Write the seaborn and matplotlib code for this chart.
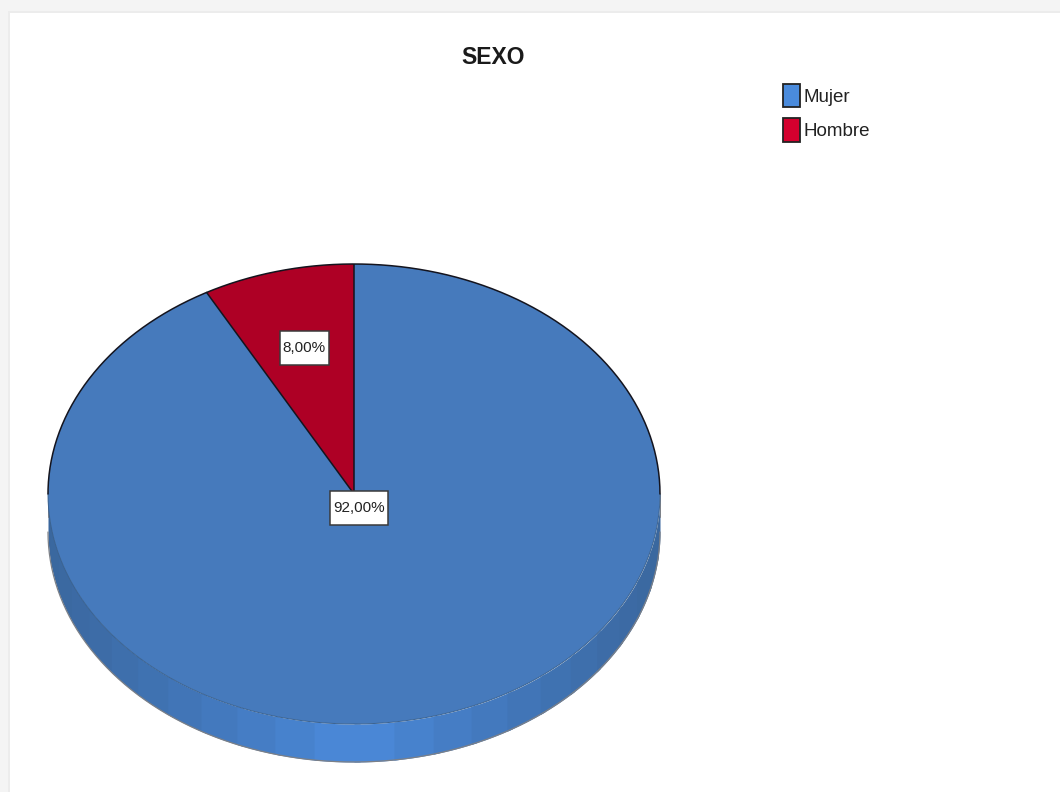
import numpy as np
import matplotlib
matplotlib.use("Agg")
import matplotlib.pyplot as plt
from matplotlib.patches import Patch, Rectangle
from matplotlib.path import Path
import seaborn as sns

# Survey breakdown by sex
categories = ["Mujer", "Hombre"]
percentages = [92.0, 8.0]
title_text = "SEXO"

sns.set_theme(style="white")
plt.rcParams["font.family"] = ["Liberation Sans", "DejaVu Sans"]

W, H = 1060, 792
face_colors = sns.color_palette(["#467ABC", "#AE0025"])
legend_colors = sns.color_palette(["#4A8BDC", "#D4002E"])
wall_dark = np.array(matplotlib.colors.to_rgb("#3A679E"))
wall_light = np.array(matplotlib.colors.to_rgb("#4B8ADB"))
outline = "#14141E"

fig = plt.figure(figsize=(W / 100, H / 100), dpi=100, facecolor="white")

# Window frame along the top and left edges
for (x0, y0, w, h, c) in [(0, 0, W, 11, "#F4F4F4"), (0, 11, W, 2, "#ECECEC"),
                          (0, 0, 8, H, "#F4F4F4"), (8, 13, 2, H, "#ECECEC")]:
    fig.add_artist(Rectangle((x0 / W, 1 - (y0 + h) / H), w / W, h / H,
                             transform=fig.transFigure, fc=c, ec="none"))

# Pie geometry in pixels: the axes hold the flattened top face plus the rim below it
left, right, top, face_bottom, rim_bottom = 48, 660, 264, 724, 762
depth = (rim_bottom - face_bottom) / ((face_bottom - top) / 2)
ax = fig.add_axes([left / W, 1 - rim_bottom / H, (right - left) / W, (rim_bottom - top) / H])

wedges, _ = ax.pie(percentages, colors=face_colors, startangle=90, counterclock=False,
                   radius=1, wedgeprops=dict(edgecolor="none", linewidth=0, zorder=3))
ax.set_aspect("auto")
ax.set_xlim(-1, 1)
ax.set_ylim(-1 - depth, 1)
ax.set_axis_off()

# Rim: shaded facets every 7.5 degrees around the front of the pie.
# Each facet runs slightly under the next one so no gap shows between them.
edges = np.radians(np.arange(180, 360.1, 7.5))
for a, b in zip(edges[:-1], edges[1:]):
    t = np.linspace(a, min(b + 0.02, 2 * np.pi), 12)
    shade = abs(np.cos((a + b) / 2))
    color = wall_light + (wall_dark - wall_light) * shade ** 0.9
    ax.fill_between(np.cos(t), np.sin(t), np.sin(t) - depth, color=color,
                    linewidth=0, antialiased=False, zorder=1, clip_on=False)

# Outlines: firm over the back arc and the slice sides, faint along the front
t = np.linspace(np.pi, 2 * np.pi, 300)
ax.plot(np.cos(t), np.sin(t) - depth, color="#7C8087", lw=0.9, zorder=2, clip_on=False)
ax.plot(np.cos(t), np.sin(t), color="#3A6290", lw=0.7, zorder=4, clip_on=False)
t = np.linspace(0, np.pi, 300)
ax.plot(np.cos(t), np.sin(t), color=outline, lw=1.1, zorder=4, clip_on=False)
for angle in (wedges[1].theta1, wedges[1].theta2):
    r = np.radians(angle)
    ax.plot([0, np.cos(r)], [0, np.sin(r)], color=outline, lw=1.1, zorder=4)
for x_side in (-1, 1):
    ax.plot([x_side, x_side], [0, -depth * 0.6], color="#7C8087", lw=0.7, zorder=2, clip_on=False)


def tall_box(x0, y0, width, height, mutation_size):
    """Rectangular label box with more room above and below the text than beside it."""
    px, py = 0.22 * mutation_size, 0.68 * mutation_size
    xa, xb, ya, yb = x0 - px, x0 + width + px, y0 - py, y0 + height + py
    return Path([(xa, ya), (xb, ya), (xb, yb), (xa, yb), (xa, ya)], closed=True)


# Percentage labels
label_positions = [(0.016, -0.061), (-0.162, 0.635)]
for value, (lx, ly) in zip(percentages, label_positions):
    ax.text(lx, ly, f"{value:.2f}".replace(".", ",") + "%", ha="center", va="center",
            fontsize=11, color="#222222", zorder=5,
            bbox=dict(boxstyle=tall_box, fc="white", ec="#3A3A3A", lw=1.1))

fig.text(493 / W, 1 - 57 / H, title_text, ha="center", va="center",
         fontsize=16.5, fontweight="bold", color="#1A1A1A")

handles = [Patch(facecolor=c, edgecolor="#222222", linewidth=1.3) for c in legend_colors]
fig.legend(handles, categories, loc="upper left", bbox_to_anchor=(783 / W, 1 - 84 / H),
           frameon=False, fontsize=13.5, handlelength=0.9, handleheight=1.55,
           handletextpad=0.2, labelspacing=0.57, borderpad=0, borderaxespad=0,
           labelcolor="#222222")

fig.savefig("out.png", dpi=100)
